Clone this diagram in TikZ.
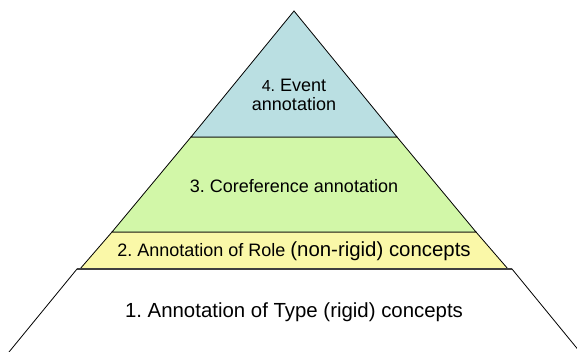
\documentclass[tikz,border=0pt]{standalone}
\usepackage{fontspec}
\setmainfont{Liberation Sans}
\frenchspacing
\definecolor{eventblue}{RGB}{186,223,226}
\definecolor{corefgreen}{RGB}{210,247,168}
\definecolor{roleyellow}{RGB}{250,248,168}

\tikzset{
  layer/.style={draw=black, line width=0.6pt, line join=miter},
  label/.style={inner sep=0pt, text=black, font=\fontsize{13.5}{14.6}\selectfont},
  biglabel/.style={label, font=\fontsize{15.3}{18}\selectfont}
}

\begin{document}
\begin{tikzpicture}[x=0.75pt,y=-0.75pt]
\useasboundingbox (0,0) rectangle (577,352);

% corners of the layers
\coordinate (apex) at (294,11);
\coordinate (bl4) at (191,137);
\coordinate (br4) at (397,137);
\coordinate (bl3) at (112,232);
\coordinate (br3) at (476,232);
\coordinate (bl2) at (80,269);
\coordinate (br2) at (508,269);
\coordinate (tl1) at (77,269);
\coordinate (tr1) at (512,269);
\coordinate (bl1) at (9,352);
\coordinate (br1) at (580,352);

% layers
\draw [layer] (bl1) -- (tl1) -- (tr1) -- (br1);
\filldraw [layer, fill=roleyellow] (bl2) -- (bl3) -- (br3) -- (br2) -- cycle;
\filldraw [layer, fill=corefgreen] (bl3) -- (bl4) -- (br4) -- (br3) -- cycle;
\filldraw [layer, fill=eventblue] (bl4) -- (apex) -- (br4) -- cycle;
\draw [line width=1.2pt, black!75] (tl1) -- (tr1);

% texts
\node [biglabel] (type) at (294,312) {1. Annotation of Type (rigid) concepts};
\node [label] (role) at (294,251) {2. Annotation of Role {\fontsize{15.3}{18}\selectfont (non-rigid) concepts}};
\node [label] (coref) at (294,186) {3. Coreference annotation};
\node [label, align=center] (event) at (294,95) {{\fontsize{12}{14}\selectfont 4.} Event\\annotation};
\end{tikzpicture}
\end{document}
